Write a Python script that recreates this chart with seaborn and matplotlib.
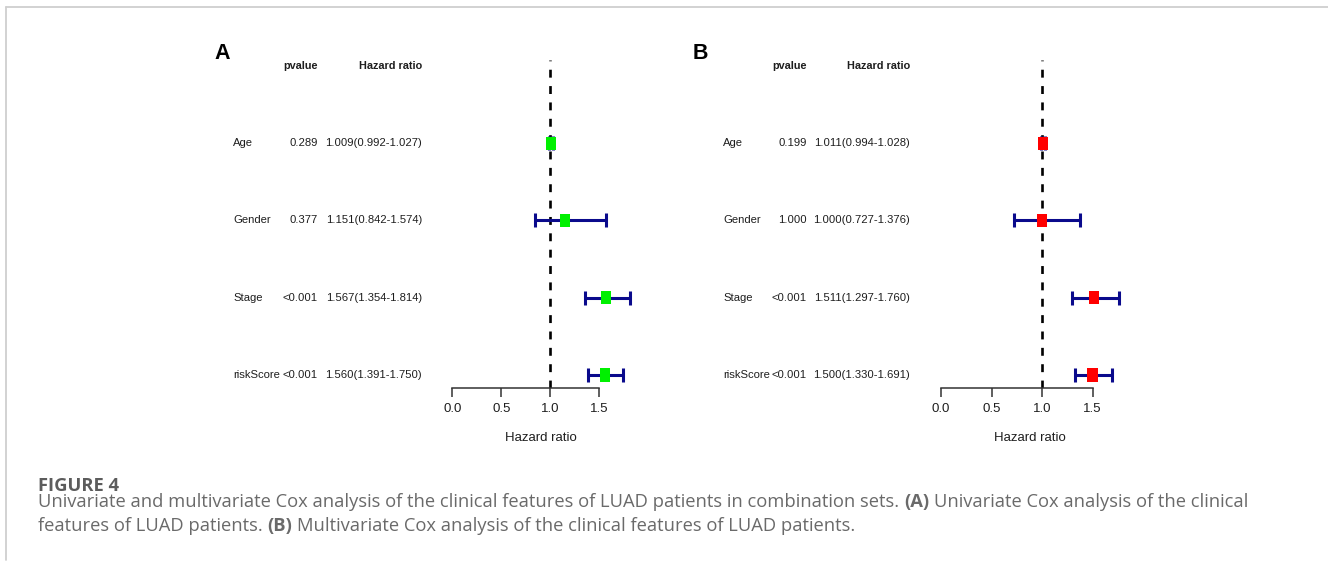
import numpy as np
import pandas as pd
import matplotlib
matplotlib.use("Agg")
import matplotlib.pyplot as plt
import seaborn as sns
from matplotlib import transforms
from matplotlib.lines import Line2D

# ---------------- data ----------------
variables = ["Age", "Gender", "Stage", "riskScore"]

uni_hr = [1.009, 1.151, 1.567, 1.560]
uni_low = [0.992, 0.842, 1.354, 1.391]
uni_high = [1.027, 1.574, 1.814, 1.750]
uni_p = ["0.289", "0.377", "<0.001", "<0.001"]

multi_hr = [1.011, 1.000, 1.511, 1.500]
multi_low = [0.994, 0.727, 1.297, 1.330]
multi_high = [1.028, 1.376, 1.760, 1.691]
multi_p = ["0.199", "1.000", "<0.001", "<0.001"]

x_ticks = [0.0, 0.5, 1.0, 1.5]
x_tick_labels = ["0.0", "0.5", "1.0", "1.5"]
ref_value = 1.0
panel_letters = ["A", "B"]
header_p = "pvalue"
header_hr = "Hazard ratio"
x_label = "Hazard ratio"
caption_title = "FIGURE 4"
caption_line1 = [
    ("Univariate and multivariate Cox analysis of the clinical features of LUAD patients in combination sets.", "normal"),
    ("(A)", "bold"),
    ("Univariate Cox analysis of the clinical", "normal"),
]
caption_line2 = [
    ("features of LUAD patients.", "normal"),
    ("(B)", "bold"),
    ("Multivariate Cox analysis of the clinical features of LUAD patients.", "normal"),
]

# ---------------- style ----------------
W, H = 1328, 566
sns.set_style("white")
NARROW = ["Liberation Sans Narrow", "Liberation Sans", "DejaVu Sans"]
plt.rcParams["font.family"] = NARROW
CAP_FONT = ["Open Sans", "Noto Sans", "DejaVu Sans"]
TXT = "#1e1e1e"
TABLE_FS = 8.15
HEAD_FS = 7.8
AXIS_FS = 9.5

fig = plt.figure(figsize=(W / 100, H / 100), dpi=100)
fig.patch.set_facecolor("white")


def fx(px):
    return px / W


def fy(py):
    return 1 - py / H


# thin frame lines of the original page
fig.add_artist(Line2D([fx(6), 1.0], [fy(7), fy(7)], transform=fig.transFigure,
                      color="#cfcfcf", lw=1.3))
fig.add_artist(Line2D([fx(6), fx(6)], [fy(7), fy(560)], transform=fig.transFigure,
                      color="#cfcfcf", lw=1.3))

XLIM = (-0.1, 2.0)
YLIM = (0.832, 5.3)
TOP_PX, BOT_PX = 42.6, 388.0


def draw_panel(hr, low, high, pvals, zero_px, unit_px, label_x, p_right, hr_right,
               letter, letter_x, xlabel_x, color):
    left_px = zero_px + XLIM[0] * unit_px
    width_px = (XLIM[1] - XLIM[0]) * unit_px
    height_px = BOT_PX - TOP_PX
    ax = fig.add_axes([fx(left_px), fy(BOT_PX), width_px / W, height_px / H])
    ax.set_facecolor("none")
    n = len(variables)
    ypos = list(range(n, 0, -1))
    df = pd.DataFrame({"var": variables, "hr": hr, "low": low, "high": high, "y": ypos})

    # reference dashed line
    ax.vlines(ref_value, YLIM[0], 5.07, colors="black", lw=1.9,
              linestyles=(0, (3.0, 3.2)), zorder=1)
    # confidence intervals
    ax.errorbar(df["hr"], df["y"], xerr=[df["hr"] - df["low"], df["high"] - df["hr"]],
                fmt="none", ecolor="#0a0a8c", elinewidth=2.2, capsize=4.8,
                capthick=2.2, zorder=2)
    # squares
    rect = [(-0.38, -0.5), (0.38, -0.5), (0.38, 0.5), (-0.38, 0.5), (-0.38, -0.5)]
    sns.scatterplot(data=df, x="hr", y="y", marker=rect, s=90, color=color,
                    edgecolor="none", linewidth=0, ax=ax, zorder=3, legend=False)

    ax.set_xlim(*XLIM)
    ax.set_ylim(*YLIM)
    for s in ["top", "left", "right"]:
        ax.spines[s].set_visible(False)
    ax.spines["bottom"].set_bounds(x_ticks[0], x_ticks[-1])
    ax.spines["bottom"].set_color("#333333")
    ax.spines["bottom"].set_linewidth(1.1)
    ax.set_xticks(x_ticks)
    ax.set_xticklabels(x_tick_labels)
    ax.set_yticks([])
    ax.tick_params(axis="x", direction="out", length=6.5, width=1.1, color="#333333",
                   labelsize=AXIS_FS, pad=4, labelcolor=TXT, bottom=True)
    ax.set_xlabel(x_label, fontsize=AXIS_FS, color=TXT)
    ax.xaxis.label.set_va("center")
    ax.xaxis.set_label_coords((xlabel_x - left_px) / width_px, -50.0 / height_px)
    ax.set_ylabel("")

    # table columns
    tr = transforms.blended_transform_factory(fig.transFigure, ax.transData)
    for i, v in enumerate(variables):
        yy = ypos[i]
        fig.text(fx(label_x), yy, v, transform=tr, ha="left", va="center",
                 fontsize=TABLE_FS, color=TXT)
        fig.text(fx(p_right), yy, pvals[i], transform=tr, ha="right", va="center",
                 fontsize=TABLE_FS, color=TXT)
        fig.text(fx(hr_right), yy, f"{hr[i]:.3f}({low[i]:.3f}-{high[i]:.3f})",
                 transform=tr, ha="right", va="center", fontsize=TABLE_FS, color=TXT)
    fig.text(fx(p_right), n + 1, header_p, transform=tr, ha="right", va="center",
             fontsize=HEAD_FS, fontweight="bold", color=TXT)
    fig.text(fx(hr_right), n + 1, header_hr, transform=tr, ha="right", va="center",
             fontsize=HEAD_FS, fontweight="bold", color=TXT)
    fig.text(fx(letter_x), fy(59), letter, ha="center", va="baseline", fontsize=15.5,
             fontweight="bold", family=["Liberation Sans", "DejaVu Sans"], color="black")
    return ax


draw_panel(uni_hr, uni_low, uni_high, uni_p, zero_px=452.3, unit_px=97.8,
           label_x=233, p_right=318, hr_right=422, letter=panel_letters[0],
           letter_x=222, xlabel_x=541, color="#00f000")
draw_panel(multi_hr, multi_low, multi_high, multi_p, zero_px=941.0, unit_px=101.0,
           label_x=723, p_right=807, hr_right=910, letter=panel_letters[1],
           letter_x=700, xlabel_x=1030, color="#ff0000")

# ---------------- caption ----------------
renderer = fig.canvas.get_renderer()


def text_width(s, size, weight):
    t = fig.text(0, 0, s, fontsize=size, fontweight=weight, family=CAP_FONT)
    w = t.get_window_extent(renderer).width
    t.remove()
    return w


def space_width(size):
    return text_width("x x", size, "normal") - text_width("xx", size, "normal")


def line_width(pieces, size):
    sp = space_width(size)
    return sum(text_width(p, size, wgt) for p, wgt in pieces) + sp * (len(pieces) - 1)


base = 12.0
cap_size = base * 1210.0 / line_width(caption_line1, base)


def draw_line(pieces, x_px, base_px, size, color):
    sp = space_width(size)
    x = x_px
    for p, wgt in pieces:
        fig.text(fx(x), fy(base_px), p, fontsize=size, fontweight=wgt, family=CAP_FONT,
                 color=color, ha="left", va="baseline")
        x += text_width(p, size, wgt) + sp


title_size = 12 * 81.0 / text_width(caption_title, 12, "bold")
fig.text(fx(38), fy(491), caption_title, fontsize=title_size, fontweight="bold",
         family=CAP_FONT, color="#5c5c5c", ha="left", va="baseline")
draw_line(caption_line1, 38, 507, cap_size, "#6a6a6a")
draw_line(caption_line2, 38, 531, cap_size, "#6a6a6a")

fig.savefig("out.png", dpi=100, facecolor="white")
